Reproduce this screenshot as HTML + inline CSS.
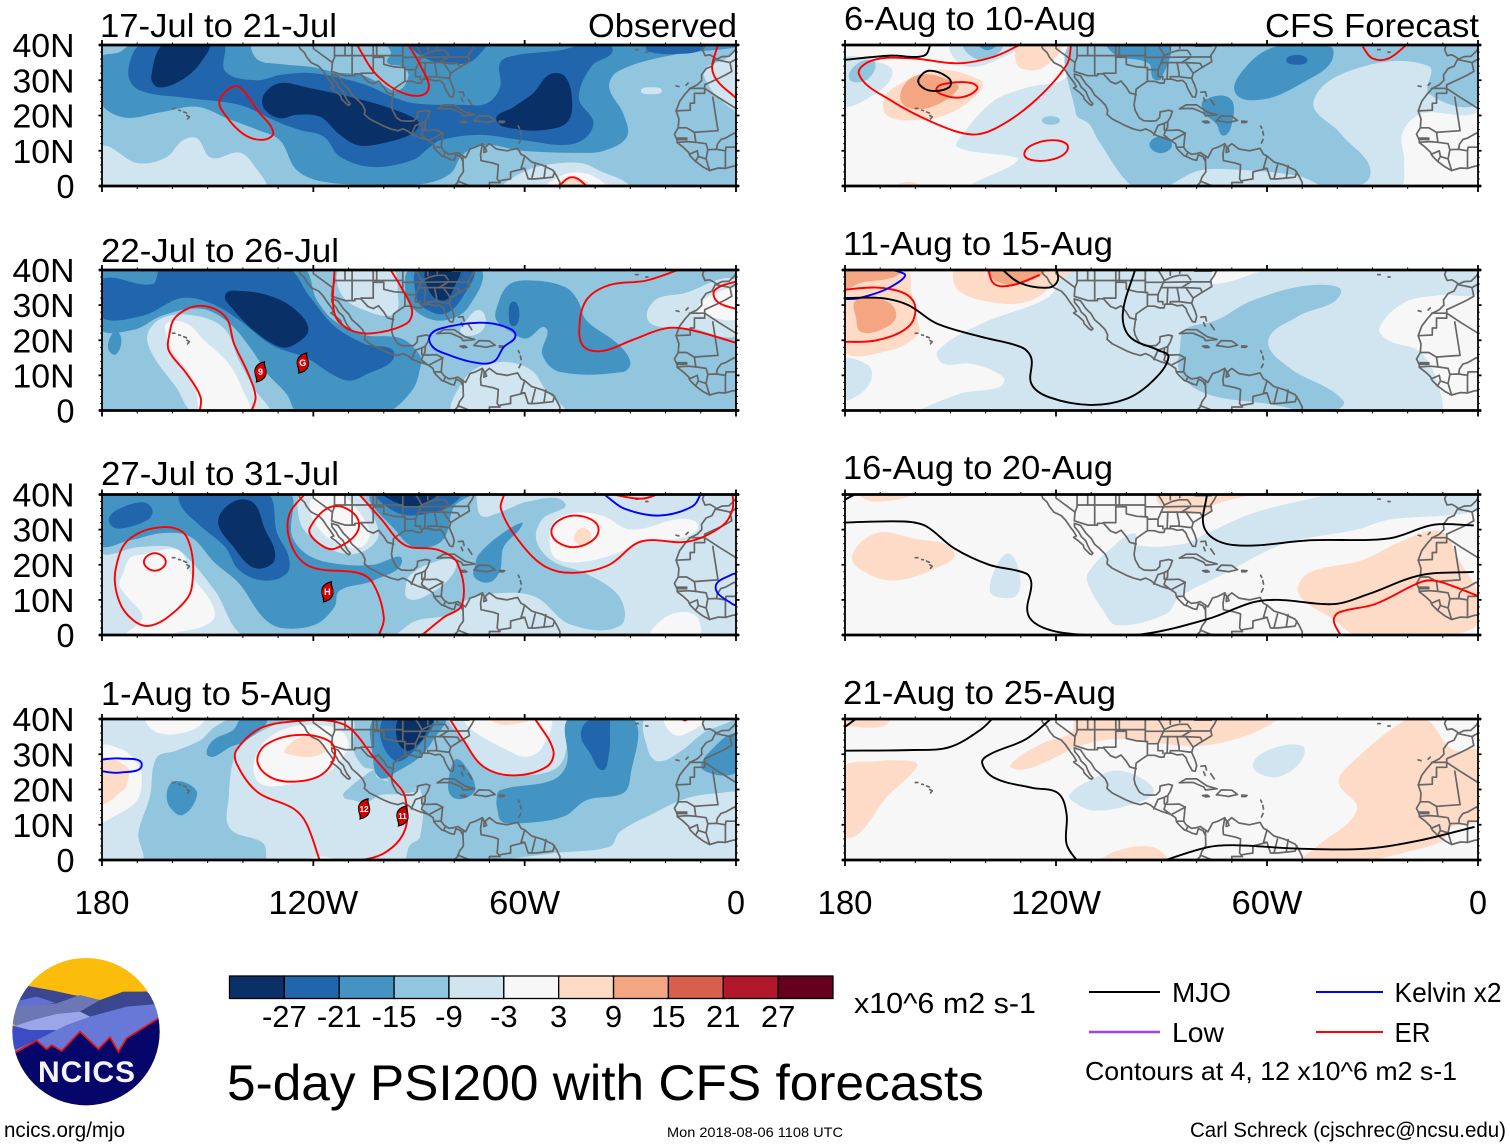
<!DOCTYPE html>
<html lang="en">
<head>
<meta charset="utf-8">
<title>5-day PSI200 with CFS forecasts</title>
<style>
html,body{margin:0;padding:0;background:#fff;}
#chart{display:block;position:absolute;left:0;top:0;}
text{font-family:"Liberation Sans",sans-serif;fill:#000;}
</style>
</head>
<body>
<svg id="chart" xmlns="http://www.w3.org/2000/svg" width="1510" height="1147" viewBox="0 0 1510 1147">
  <rect x="0" y="0" width="1510" height="1147" fill="#fff"/>
  <g id="panels"></g>
  <g id="colorbar"></g>

  <text x="854" y="1013" font-size="29" textLength="182" lengthAdjust="spacingAndGlyphs">x10^6 m2 s-1</text>
  <text x="227" y="1100" font-size="50" textLength="757" lengthAdjust="spacingAndGlyphs">5-day PSI200 with CFS forecasts</text>
  <text x="4" y="1137" font-size="21" textLength="121" lengthAdjust="spacingAndGlyphs">ncics.org/mjo</text>
  <text x="667" y="1137" font-size="14" textLength="176" lengthAdjust="spacingAndGlyphs">Mon 2018-08-06 1108 UTC</text>
  <text x="1190" y="1137" font-size="21" textLength="316" lengthAdjust="spacingAndGlyphs">Carl Schreck (cjschrec@ncsu.edu)</text>

  <g>
    <line x1="1089" y1="992" x2="1160" y2="992" stroke="#000" stroke-width="2"/>
    <text x="1172" y="1002" font-size="28" textLength="59" lengthAdjust="spacingAndGlyphs">MJO</text>
    <line x1="1316" y1="992" x2="1383" y2="992" stroke="#0000ff" stroke-width="2"/>
    <text x="1394.5" y="1002" font-size="28" textLength="107" lengthAdjust="spacingAndGlyphs">Kelvin x2</text>
    <line x1="1089" y1="1032" x2="1160" y2="1032" stroke="#a040f0" stroke-width="2.4"/>
    <text x="1172" y="1042" font-size="28" textLength="52" lengthAdjust="spacingAndGlyphs">Low</text>
    <line x1="1316" y1="1032" x2="1383" y2="1032" stroke="#ff0000" stroke-width="2"/>
    <text x="1394.5" y="1042" font-size="28" textLength="36" lengthAdjust="spacingAndGlyphs">ER</text>
    <text x="1085" y="1080" font-size="26" textLength="372" lengthAdjust="spacingAndGlyphs">Contours at 4, 12 x10^6 m2 s-1</text>
  </g>

  <g>
    <g transform="translate(0 950) scale(0.33333)">
      <defs><clipPath id="logoClip"><circle cx="258" cy="245" r="221"/></clipPath></defs>
      <g clip-path="url(#logoClip)">
        <rect x="30" y="20" width="460" height="450" fill="#fcbc0c"/>
        <path fill="#3a4690" d="M30 135 L85 108 L160 122 L220 135 L300 150 L370 125 L440 125 L490 200 L250 200 L30 180 Z"/>
        <path fill="#6070d4" d="M45 155 L110 140 L165 158 L110 170 L45 170 Z"/>
        <path fill="#6c78b4" d="M30 215 L48 168 L110 166 L170 160 L240 135 L300 150 L240 185 L180 192 L100 212 L48 228 Z"/>
        <path fill="#3a4690" d="M240 185 L310 155 L370 128 L440 125 L490 165 L380 170 L280 195 L262 195 Z"/>
        <path fill="#9aa6ea" d="M45 228 L100 210 L170 192 L240 185 L270 200 L200 225 L170 240 L90 240 Z"/>
        <path fill="#3c4cc4" d="M30 225 L90 240 L170 240 L110 272 L45 300 L30 300 Z"/>
        <path fill="#6878d6" d="M45 300 L110 270 L170 240 L200 225 L270 200 L380 170 L470 162 L490 200 L380 320 L45 320 Z"/>
        <path fill="#06066a" stroke="#ee1111" stroke-width="5" d="M25 310 L45 308 L110 272 L140 298 L155 285 L185 303 L240 245 L295 297 L330 262 L355 305 L380 265 L475 205 L495 190 L495 480 L25 480 Z"/>
      </g>
    </g>
    <text x="38" y="1082" font-size="30" font-weight="bold" textLength="97" lengthAdjust="spacing" style="fill:#f4f4fa">NCICS</text>
  </g>
</svg>

<script>
// ---------- colour scale ----------
const levelValues = [-30,-24,-18,-12,-6,0,6,12,18,24,30];
const tickLabels  = ['-27','-21','-15','-9','-3','3','9','15','21','27'];
const palette = ['#0a3068','#2166ac','#4393c3','#92c5de','#d1e5f0','#f7f7f7','#fddbc7','#f4a582','#d6604d','#b2182b','#67001f'];
const waveColors = {MJO:'#000000',Kelvin:'#0000ff',ER:'#ff0000',Low:'#a040f0'};

// ---------- axis values ----------
const latTicks = [40,30,20,10,0];
const latLabels = ['40N','30N','20N','10N','0'];
const lonTicks = [-180,-120,-60,0];
const lonLabels = ['180','120W','60W','0'];

// ---------- titles ----------
const panelTitles = ['17-Jul to 21-Jul','22-Jul to 26-Jul','27-Jul to 31-Jul','1-Aug to 5-Aug','6-Aug to 10-Aug','11-Aug to 15-Aug','16-Aug to 20-Aug','21-Aug to 25-Aug'];
const columnTitles = ['Observed','CFS Forecast'];

// ---------- PSI200 anomaly regions: [level, [lon,lat] outline] painted in order ----------
const psiBase = [-12,-12,-6,-12,0,0,0,0];

const psi1 = [
 [-6,[[-180,11],[-170,6.5],[-162,8],[-157,13],[-153,13.5],[-149,8],[-141,9.5],[-137,6],[-134,0],[-180,0]]],
 [-6,[[-27,27],[-24,28],[-21,27],[-24,26]]],
 [-6,[[-9,33],[-3,36],[0,38],[0,22],[-5,25],[-8,29]]],
 [-6,[[-66,0],[-61,3.7],[-53.7,6],[-44,6.5],[-38,4],[-32,1.5],[-30,0]]],
 [0,[[-54,0],[-50,2.7],[-46,3.8],[-41,3],[-37,0]]],
 [6,[[-51,0],[-46.5,2.5],[-41.5,0]]],
 [-18,[[-180,24.5],[-174,19.5],[-163,21],[-153,22.5],[-144,19],[-136,16],[-129.5,13],[-124.7,4.5],[-117,1.2],[-100,0.3],[-87.7,0.8],[-81,3.6],[-77.5,9],[-70.7,11.6],[-61,10],[-44,9.4],[-37.5,10],[-31,14],[-32,20.5],[-36,28],[-33.5,32.5],[-19,37],[0,39.5],[0,41],[-170.5,41],[-175,38],[-180,36]]],
 [-12,[[-137,41],[-136,36],[-129.5,34.6],[-120,33.7],[-114,32.3],[-106,31.4],[-100,28.5],[-96,27],[-93,31],[-94.5,33.8],[-99,35],[-98,38],[-101,41]]],
 [-24,[[-168,41],[-172.5,33],[-170,27.5],[-156,25],[-141,23],[-129.5,17.9],[-123.8,15.9],[-117,14],[-112.4,8.3],[-103,5.4],[-91.7,7.4],[-87,11],[-84,13],[-72.7,14.5],[-60.5,13],[-46,12],[-40.5,17.5],[-44.6,25],[-41,34],[-35,38.5],[-40,41],[-50,38.5],[-63,37],[-67,34.9],[-67,28],[-70.7,23.5],[-77.5,23],[-91.7,23.5],[-97.5,25.3],[-106,29],[-120,32],[-129.5,31.5],[-136,30],[-145,32.5],[-146,41]]],
 [-24,[[-92,41],[-87,35.7],[-76.4,34.9],[-71.7,38.6],[-71,41]]],
 [-24,[[-25,41],[-25,38.2],[-15,37.5],[-9,39],[-10,41]]],
 [-30,[[-162,41],[-166,31],[-164,28],[-157.5,30],[-152,35],[-150,41]]],
 [-30,[[-129.5,29.2],[-122,28],[-106,24.4],[-98,22],[-91.5,19.3],[-90,17.4],[-92.6,14.5],[-101,12],[-107.5,11.6],[-113,15],[-118,19.6],[-124.7,20.2],[-129.5,19.2],[-134,22],[-134,26]]],
 [-30,[[-68,18.7],[-63,22.5],[-57.6,26.3],[-53,31.6],[-48.5,31],[-46.5,23.5],[-48,18],[-53.7,16],[-61,16]]]
];

const psi2 = [
 [-6,[[-162,26.7],[-167,22],[-165.7,16],[-159,6.7],[-153.5,0],[-133,0],[-136.4,5.7],[-141,14],[-145,23],[-152,26.7]]],
 [0,[[-161.6,21],[-161.6,24.8],[-156,24.8],[-151,20],[-144,13.3],[-140,5.7],[-138.5,0],[-151,0],[-154,8.6],[-160,17]]],
 [-6,[[-78,7.6],[-73,12.4],[-65,13.8],[-58,11.4],[-54,5.7],[-49,0],[-80,0]]],
 [-6,[[-76.5,25.7],[-73,28.6],[-71,25.7],[-73,22],[-78,22]]],
 [-6,[[-25,25.7],[-23,31.4],[-15,33.3],[0,36.7],[0,22],[-13,23.4],[-18.6,23.4]]],
 [0,[[-11,28.6],[-6,33.3],[0,34],[0,26.6],[-7.3,26.6]]],
 [-6,[[-112,41],[-112,33],[-104,28],[-97,27.5],[-96,33],[-98,41]]],
 [-18,[[-180,23.7],[-171,23],[-163,27],[-152,29],[-144,25],[-138,18],[-133,10.5],[-127.6,4.7],[-124,0],[-100,0],[-92,5.7],[-89.6,12.4],[-89.6,15.5],[-95,20.5],[-105.7,21.5],[-114,25.5],[-119,31.4],[-123.5,41],[-180,41]]],
 [-18,[[-178,20],[-176,22.5],[-174.5,20],[-176,16],[-178,17]]],
 [-18,[[-68,29],[-64.6,35.7],[-58,37],[-48.6,35.2],[-45,31.5],[-42.5,25.7],[-33.6,19],[-30,13.8],[-32,11],[-50,11],[-55,16],[-54,23.5],[-59.5,20.5],[-64,22.5],[-68,25.7]]],
 [-24,[[-64.5,27.5],[-63.2,31],[-61.5,27.5],[-63.2,24]]],
 [-18,[[-92,41],[-93.5,32],[-89,27],[-82.6,25.7],[-76,29.4],[-73,41]]],
 [-24,[[-90,41],[-91,33.3],[-89,29.5],[-82.6,27.6],[-77,33.3],[-75,41]]],
 [-30,[[-87.6,41],[-86.7,33.3],[-82.6,31.4],[-80,35.2],[-78.7,41]]],
 [-24,[[-180,27],[-168.5,27],[-157.5,32],[-149,30.5],[-141,25.7],[-131.6,18.5],[-122,15],[-115,10.5],[-110,8.5],[-105.5,10],[-97,16],[-105.5,19],[-114,24],[-121,32.4],[-128,41],[-163,41],[-165.7,36],[-180,37]]],
 [-30,[[-145,33],[-140,34],[-131.6,32.4],[-125,28.6],[-121.4,23],[-125,19],[-129,18],[-136,22],[-142.6,28.6]]]
];

const psi3 = [
 [-12,[[-180,24],[-170,25],[-160,25],[-155,21.3],[-148,12.7],[-138.5,0],[-99,0],[-91,4],[-80.6,6],[-76.5,10],[-66,12],[-56.7,10.7],[-47,3],[-33,2.6],[-33,10.7],[-42.6,17.5],[-52,21],[-56.7,27],[-55,33],[-48.6,37.6],[-59,38],[-67.6,34.7],[-72.4,34],[-75,41],[-180,41]]],
 [-6,[[-93.6,15],[-92,17.5],[-87,20.3],[-80,21.3],[-80.6,17],[-87,11.7],[-93,10.3]]],
 [-6,[[-123,41],[-124,33],[-120.7,28],[-110,23],[-102,27],[-103,33.8],[-108.5,41]]],
 [0,[[-120.7,38.5],[-119,31],[-113,26],[-106.6,25],[-104,29],[-107.6,35.7],[-113.6,41]]],
 [-18,[[-180,26],[-172,27],[-163,29],[-155,28],[-148,20.6],[-141,14.6],[-134.3,5],[-129,2],[-119.4,3],[-114,8],[-112.6,12.6],[-103,15.5],[-94.8,21.3],[-103,20],[-111,20],[-120.7,22.3],[-126,28],[-127.6,41],[-180,41]]],
 [-24,[[-178,33.3],[-175,36],[-168.4,37.8],[-165.7,35.7],[-167,32.8],[-174,30.4],[-177,30.8]]],
 [-24,[[-157.5,41],[-157.5,36.6],[-152,31],[-145,25],[-141,18.4],[-134,15.5],[-127.6,17.5],[-127,22.3],[-130.3,29],[-133.7,41]]],
 [-30,[[-142.6,38],[-137,37.6],[-133.7,30],[-131,24.2],[-131.7,20.3],[-137,19.2],[-142.6,25],[-147,32.3]]],
 [-18,[[-103,41],[-96,29],[-91,25],[-83.3,27],[-80,36.6],[-75,41]]],
 [-24,[[-101.6,41],[-96,34.7],[-86.7,34.7],[-80,37.6],[-78,41]]],
 [-30,[[-99.6,41],[-93.6,36.6],[-89.6,37],[-85,41]]],
 [-18,[[-73,23],[-67.6,28],[-60.8,32],[-61.5,30],[-66,25],[-67,18.4],[-70,15],[-74.3,16.5],[-74,20.3]]],
 [0,[[-174,17.5],[-172,22],[-168,23],[-165.6,23.7],[-158,24],[-155,17.5],[-148.7,8.8],[-148.7,4],[-157.5,1],[-173,0],[-168.6,5],[-172,10],[-175,14]]],
 [0,[[-52.6,24.2],[-52,31.8],[-46,34.7],[-38,34],[-29.7,30],[-16,33],[-10.8,31],[-16,27.5],[-27,26.6],[-34,23.2],[-43.5,20.8],[-50.3,21.3]]],
 [6,[[-46,28],[-43.6,30.5],[-41,28.5],[-43,25.7],[-45,26]]],
 [0,[[-24,0],[-21.5,4],[-16,6.5],[-11,5],[-11,0]]]
];

const psi4 = [
 [-6,[[-180,41],[-144.6,41],[-149,37],[-152,34],[-159,31],[-164.5,29],[-166.4,18],[-169.7,7.5],[-169,0],[-180,0]]],
 [-18,[[-150.3,30.3],[-148.4,34],[-142.7,36.9],[-140,41],[-133,41],[-139,34],[-143.7,32],[-148.4,29.3]]],
 [-6,[[-143.7,9],[-144,18],[-142.7,28.4],[-140,33],[-133,37.4],[-124,41],[-109.6,41],[-108.6,31.2],[-105.8,26.5],[-102.5,25.5],[-94.5,19.4],[-89.7,20],[-89.7,6.6],[-92.6,4.2],[-95,0],[-132.3,0],[-134.2,4.7]]],
 [-12,[[-111.5,18],[-110,20.3],[-105.8,23.6],[-102.5,25.5],[-102,23.6],[-97.3,21.7],[-94.5,19.4],[-89.7,20.3],[-95,18.8],[-101,18.4],[-105,16.3],[-108.7,17]]],
 [0,[[-137,26.5],[-135,21.7],[-127.6,21.3],[-116.2,24.6],[-111.5,29.3],[-110,33],[-112.5,36.9],[-119,38.3],[-127.6,37.4],[-134.2,33.1]]],
 [6,[[-128,30.3],[-126.6,33],[-122.9,35],[-119,35],[-117.2,30.3]]],
 [0,[[-180,31.7],[-174,31.2],[-170,27.4],[-168.7,23.6],[-170,17],[-176.8,12.3],[-180,11]]],
 [6,[[-180,28.4],[-173,26.5],[-172.6,22.7],[-174,19.8],[-180,16.5]]],
 [0,[[-167.3,41],[-164,36],[-154,37],[-151,41]]],
 [0,[[-122.9,0],[-118,1],[-112.4,0]]],
 [-18,[[-161.6,19],[-159.8,22.2],[-155,21.3],[-153,18.4],[-157,12.8],[-160.7,15]]],
 [-6,[[-81,41],[-78,34.5],[-71,26],[-62.3,24],[-52,25.5],[-48.5,30],[-49,41]]],
 [0,[[-77,41],[-75.5,37.3],[-65,31.2],[-59.4,29.3],[-55,32],[-53.3,41]]],
 [6,[[-70,41],[-66,38.3],[-58.5,41]]],
 [-18,[[-102,41],[-103,28.4],[-101,23.2],[-96.4,25],[-89.7,29.3],[-86,34],[-83,41]]],
 [-24,[[-99.7,41],[-97.3,28.4],[-89.7,33],[-86.4,41]]],
 [-30,[[-95,41],[-96.4,35],[-93.5,31],[-89.7,33.5],[-88,36],[-86.2,41]]],
 [-18,[[-81.7,21.7],[-79.8,28.4],[-77.4,27.4],[-74,20.3],[-77,17.5],[-80.7,18]]],
 [-18,[[-68,17],[-67,19.8],[-52,22.7],[-48,27.4],[-47,41],[-29.6,41],[-30,23.6],[-32,19],[-42.4,17],[-49,12.3],[-61,10.4],[-66.5,10.9],[-67.7,14.2]]],
 [-24,[[-44,35],[-42.4,39.2],[-36.7,41],[-35.8,36],[-36.2,29.3],[-38,25.5],[-41.4,30.3]]],
 [-6,[[-25,41],[-25,31.2],[-22,28],[-15.5,31],[-9.3,36],[-1,41]]],
 [0,[[-20,41],[-18.8,36.4],[-15,35.5],[-9.3,41]]],
 [-18,[[-9.3,25.5],[-7.9,30.3],[0,35.5],[0,25.5]]],
 [-6,[[-67,0],[-52,1.9],[-35.8,3.8],[-33,8],[-23.5,13.2],[-14,17.5],[-4.5,19],[0,18.4],[0,0]]]
];

const psi5 = [
 [-6,[[-180,35.7],[-172,35.5],[-166.5,32],[-173.6,24.8],[-180,23.4]]],
 [-12,[[-178.8,30.5],[-176,35],[-171.5,35],[-174,30]]],
 [-6,[[-149.5,41],[-146,34],[-134,37],[-130,41]]],
 [-12,[[-146,41],[-141,35.6],[-135.5,41]]],
 [-18,[[-142,41],[-139.5,38.5],[-137,41]]],
 [-6,[[-144,0],[-132,6.2],[-131,8],[-148,11],[-146.5,14.8],[-137.5,24.3],[-128,28],[-116.9,31],[-114.4,41],[2,41],[0,22],[-16,20.5],[-21.5,15],[-21,7],[-22.8,0]]],
 [-12,[[-114.3,41],[-114.3,20.5],[-110.5,17.6],[-108,13],[-97.6,0],[-90,0],[-79.5,4.3],[-68,4.6],[-51,2.8],[-41,0],[-30.6,3.3],[-39,14.8],[-46.7,24.3],[-33,33.8],[-14,34],[-13.8,26],[0,24],[0,41]]],
 [-18,[[-68.9,26.2],[-66,33.8],[-57.6,39.5],[-42,39.5],[-42,34.8],[-48.6,30],[-60,24.8]]],
 [-24,[[-54.5,35.7],[-51.5,37.2],[-48.5,35.7],[-51.5,34.4]]],
 [-18,[[-105.3,41],[-102.7,37],[-93.7,34.8],[-92.4,30.5],[-90,30.5],[-88.5,41]]],
 [-18,[[-78,24.3],[-70.5,24.8],[-70,17.6],[-72.4,14.3],[-74.4,17.6],[-78,21]]],
 [-18,[[-93.4,11.7],[-90.2,14.1],[-87,11.7],[-90.2,9.3]]],
 [-12,[[-124,18.6],[-121.4,19.8],[-118.9,18.6],[-121.4,17.4]]],
 [6,[[-169,24.3],[-166,28],[-154,33],[-141.4,30],[-141.4,27],[-150.4,20.5],[-160.7,18.6],[-168,20]]],
 [12,[[-164.3,25.2],[-162,30],[-157,31.7],[-150.4,30],[-147.8,27.6],[-155.5,22.4],[-162,22.2]]],
 [6,[[-131.7,37],[-130,41],[-119,41],[-123.3,33.8],[-129.8,33.3]]],
 [6,[[-166,0],[-162,1.2],[-158,0]]]
];

const psi6 = [
 [-6,[[-153.6,17],[-141,24.8],[-122,32.4],[-115.6,41],[-76,41],[-75.7,36],[-56.4,41],[0,41],[0,33.7],[-10.8,32.8],[-21,30.7],[-28,23.5],[-25.5,20],[-16,16.3],[-10.7,5.2],[-11.2,0],[-158,0],[-147.6,4.7],[-136,6.7],[-135,9.5],[-144,13.3],[-152,13.3]]],
 [-6,[[-180,14],[-173.6,13],[-172.5,9],[-176,4.5],[-180,3.5]]],
 [-12,[[-84.7,18],[-83.4,23],[-74.4,25.7],[-64,31.4],[-47.4,35.7],[-39,33.3],[-51.4,26.7],[-59.6,20],[-54,12.4],[-38.3,2.8],[-43,0],[-60,1.9],[-77,4.7],[-84.7,10.5]]],
 [6,[[-180,17.6],[-180,41],[-163,41],[-161,33],[-159.4,25.7],[-159,22],[-167,17.2]]],
 [6,[[-148,41],[-147.8,34.3],[-136,30.5],[-127,31.4],[-120.7,36],[-115.6,41]]],
 [12,[[-180,41],[-180,35],[-175,36.5],[-166,38],[-163.5,41]]],
 [12,[[-176.8,31.4],[-168,31],[-165.5,26.6],[-170,22.9],[-175.5,22.4],[-176.8,26]]],
 [12,[[-139.4,41],[-137.5,37],[-130,36],[-123.5,41]]]
];

const psi7 = [
 [6,[[-178,22.3],[-171,29],[-160.7,27.5],[-149,23.7],[-155.5,18.4],[-166,15.5],[-173.6,17.5]]],
 [6,[[-51,11.7],[-48.4,17.5],[-33,21.3],[-21,27],[-10.8,29.5],[-5.8,22.3],[0,5],[-12.6,0],[-33,0],[-42,5]]],
 [6,[[-91,41],[-89,35.7],[-77,34.7],[-75,37],[-65,41]]],
 [6,[[-176,41],[-172,38],[-162,41]]],
 [-6,[[-138.8,12.6],[-136,21.3],[-133,23],[-130.4,17.5],[-130.9,11.7],[-135,10.5]]],
 [-6,[[-111,17.5],[-104,25],[-97.6,29],[-97,25.6],[-83.4,26],[-77,29],[-64,34.7],[-44.7,39.5],[-40,41],[0,41],[0,35.7],[-25.4,32.8],[-34.5,30],[-55,26],[-72,17.5],[-85,10.7],[-88.6,6],[-102.7,2.8],[-106.6,7],[-110.5,13.6]]]
];

const psi8 = [
 [6,[[-180,25.6],[-171,28],[-160.7,28],[-159.4,26.6],[-167,19],[-180,6.6]]],
 [6,[[-133,27],[-123.4,33.3],[-115.6,36],[-114,41],[-57.6,41],[-64,36],[-79.5,32.4],[-102.7,34.3],[-113,32.4],[-123.4,27.6],[-130,25.6]]],
 [6,[[-19,41],[-14,39.5],[-7.4,31.4],[0,30.4],[0,12],[-7.4,9.4],[-10,5.5],[-19,2.6],[-34.5,0],[-50,0],[-46,3.6],[-34.5,14.2],[-39.6,21.8],[-37,26.6]]],
 [6,[[-107,0],[-102.7,2.6],[-92.4,3.6],[-88.6,0]]],
 [6,[[-180,41],[-180,38],[-167,41]]],
 [-6,[[-116.2,18.5],[-109,23.3],[-102.7,25.4],[-95,22.8],[-92.4,19],[-99,15.6],[-109,14],[-114.3,16]]],
 [-6,[[-64,27],[-59,31.4],[-50,32.4],[-50,28.5],[-55,24.2],[-60,23.7]]]
];

// ---------- filtered wave contours: [wave, closed(1)/open(0), [lon,lat] points] ----------
const waves1 = [
 ['ER',1,[[-146.6,24.3],[-142.5,28.3],[-139.8,27],[-135.8,21.4],[-131.4,15.2],[-134.3,13.1],[-139.8,14.7],[-145.2,20.4]]],
 ['ER',0,[[-108,40],[-102,31.5],[-93.5,26],[-87.5,27],[-89.5,34],[-93.5,40]]],
 ['ER',0,[[-5,40],[-6.5,32],[0,24]]],
 ['ER',0,[[-51,0],[-46.5,2.5],[-41.5,0]]]
];
const waves2 = [
 ['ER',0,[[-152.3,0],[-152,3.8],[-156,10.5],[-161,17],[-161,21],[-159,26.7],[-152,29.8],[-145,26.7],[-142.5,19],[-138.5,10.5],[-136.4,3.8],[-137.8,0]]],
 ['ER',0,[[-114,40],[-114,27.6],[-109.6,23],[-103,22],[-93.5,24.8],[-92,28.6],[-95,35],[-98.5,40]]],
 ['ER',0,[[-14.6,40],[-25.4,37],[-36,35.7],[-42.5,31.4],[-44.5,23],[-43,18],[-37.6,17],[-29.6,20],[-20,23.4],[-13.2,23],[0,19]]],
 ['ER',0,[[0,37],[-6,34.3],[-5.3,31],[0,28.6]]],
 ['Kelvin',1,[[-87,21],[-84,23.3],[-73,25],[-66,24],[-62.6,21.4],[-66,18],[-69,13.8],[-75,13.8],[-82.6,16.2],[-86,18]]]
];
const waves3 = [
 ['ER',1,[[-176,19.4],[-172.6,27],[-163,30.7],[-156,28],[-154.5,13.6],[-159,7],[-167,2.6],[-173,6],[-176,12.6]]],
 ['ER',1,[[-168.1,20.8],[-165,23.3],[-161.9,20.8],[-165,18.3]]],
 ['ER',0,[[-101.6,0],[-100,5],[-103,14.6],[-107,17.6],[-120.7,19.4],[-126,25],[-127,33.8],[-122,40]]],
 ['ER',0,[[-107.6,40],[-100.7,33],[-94,25.6],[-84.5,24.2],[-79,20.3],[-77.7,8.8],[-83,5],[-90,0]]],
 ['ER',1,[[-121,30.4],[-113.8,36.7],[-107,31.4],[-113.8,24.6],[-119,26.5]]],
 ['ER',0,[[-65.6,40],[-66.7,35.7],[-61,26],[-54,19.4],[-46,17.7],[-36,20],[-27,26.6],[-13.6,26.6],[-4,31],[-1,35.7],[-1,40]]],
 ['ER',1,[[-52.4,29.4],[-46,34],[-39,30],[-46,25]]],
 ['ER',0,[[-38,40],[-27,38.8],[-20.4,40]]],
 ['Kelvin',0,[[-37,39.7],[-31.7,36],[-22,34],[-12.4,36.6],[-9.7,40]]],
 ['Kelvin',0,[[0,17.5],[-1,17.3],[-5.8,13.6],[-1,8.8],[0,8.5]]]
];
const waves4 = [
 ['ER',0,[[-109.6,0],[-100,1.9],[-94,8.5],[-94,18],[-97.3,22.7],[-103,29.3],[-109.6,37.4],[-115.3,39.5],[-123.8,39.5],[-135,37.4],[-141.8,31.2],[-141.8,27.4],[-136,19.4],[-125.7,14.6],[-122,10.4],[-118,0]]],
 ['ER',1,[[-135.9,28.4],[-133,33],[-124,35.5],[-115.3,33.6],[-114,29.3],[-118,24],[-126.6,22.2],[-133,24]]],
 ['ER',0,[[-81.7,40],[-77.4,34],[-71.7,26.5],[-63.2,24],[-53.7,26.5],[-51.9,31.2],[-57.5,40]]],
 ['ER',0,[[-16,40],[-14.5,39.6],[-13,40]]],
 ['Kelvin',0,[[-180,28.4],[-174.8,28.8],[-168.7,27],[-174.8,24.8],[-180,25.3]]]
];
const waves5 = [
 ['ER',0,[[-129,40],[-137.6,36.7],[-148,34.8],[-160.7,36.2],[-172,35.7],[-176,31.6],[-167,24.3],[-154,17.6],[-144,14.6],[-137.5,16.2],[-127,23.3],[-117,34.3],[-115.6,40]]],
 ['ER',1,[[-154,27.6],[-150.3,29.2],[-144,29.2],[-142.4,27.6],[-146.7,25.2],[-151.7,25.7]]],
 ['ER',1,[[-129,9],[-126,12],[-119.5,12.9],[-116.6,11],[-119.5,8],[-126,7.2]]],
 ['ER',0,[[-32.8,39.5],[-30,36.2],[-25.4,36.2],[-19.6,40]]],
 ['MJO',0,[[-180,35.7],[-167,37],[-157.5,37],[-155.5,40]]],
 ['MJO',1,[[-159,30.5],[-156,32.7],[-150.4,30.5],[-150.4,28],[-155.5,27],[-158.7,28.6]]]
];
const waves6 = [
 ['ER',0,[[-180,34.3],[-171,35],[-163,33.3],[-160,29.5],[-162,23.8],[-171,20],[-180,19.5]]],
 ['ER',0,[[-139.4,40],[-137.5,36],[-132.3,35.7],[-124.6,38.6]]],
 ['Kelvin',0,[[-179.5,40],[-163.3,39],[-167,35.2],[-176,32],[-180,31.7]]],
 ['MJO',0,[[-180,32],[-169.7,32],[-162,30],[-154,24.8],[-141.4,21],[-129.8,18],[-127,14.8],[-127,7.6],[-122,3.8],[-110.4,1.6],[-100,3.3],[-92.3,8.6],[-88,15.2],[-91,17.2],[-99,21],[-101,27.6],[-97.3,40]]],
 ['MJO',0,[[-136,40],[-130,36.2],[-122,35],[-119.5,37],[-120,40]]]
];
const waves7 = [
 ['MJO',0,[[-180,38],[-176,40]]],
 ['MJO',0,[[-180,32],[-163,32.3],[-157,31],[-149,24.7],[-139,20],[-128.5,17.5],[-127,14.6],[-128,6],[-123.4,2],[-113,0.1],[-96.3,0.1],[-77,4.5],[-64,9.3],[-56.4,10],[-41,8.8],[-31,11.7],[-16.4,17],[-1.2,18]]],
 ['MJO',0,[[-77,40],[-77.6,30],[-69.4,25.6],[-47.3,27],[-25.4,27.5],[-12.5,31.4],[-1.2,31.2]]],
 ['ER',0,[[-38.7,0],[-41,4],[-39.6,6.4],[-29.3,8.8],[-16.4,15],[-12.5,15.5],[-7.4,14],[0,10.7]]]
];
const waves8 = [
 ['MJO',0,[[-180,37],[-176,40]]],
 ['MJO',0,[[-180,31],[-160.7,31.2],[-150.3,32],[-141.4,37],[-137.5,40]]],
 ['MJO',0,[[-120.7,40],[-128.5,34.3],[-138.8,30],[-141,27.6],[-137.5,23.3],[-127,20.5],[-119.5,19],[-117,13.2],[-117,4.6],[-113.7,0]]],
 ['MJO',0,[[-91,0],[-77,3.6],[-69.4,4.2],[-51,3.2],[-32,3.2],[-16.4,5.6],[-1,9.4]]]
];

// ---------- tropical cyclones: [label, lon, lat] ----------
const cyclones1 = [];
const cyclones2 = [['9',-135,11],['G',-123,13.5]];
const cyclones3 = [['H',-116,12.3]];
const cyclones4 = [['12',-105.6,14.5],['11',-94.7,12.5]];
const cyclones5 = [];
const cyclones6 = [];
const cyclones7 = [];
const cyclones8 = [];

// ---------- basemap polylines in lon/lat ----------
const coastLines = [
 [[-124.3,40.5],[-123.8,39],[-122.5,37.8],[-121.9,36.6],[-120.6,35],[-118.5,34],[-117.2,32.6],[-116,30.8],[-115,29.5],[-114.2,28.2],[-115,27.8],[-113.5,26.7],[-112.2,25.5],[-112,24.7],[-110.5,23.2],[-109.9,22.9],[-109.5,23.3],[-110.3,24.2],[-111,25.5],[-111.5,26.8],[-112.8,28],[-113.5,29.3],[-114.7,30.8],[-114.8,31.8],[-113,31.2],[-111.5,29],[-110,27.5],[-109,25.8],[-107.5,24.5],[-106,23],[-105.3,21.5],[-105.5,20.3],[-104,19],[-102,18],[-100,17],[-98,16.2],[-96,15.7],[-94.5,16.2],[-93,15.5],[-92,14.6],[-90,13.8],[-88,13.2],[-87.5,13],[-86,12],[-85.7,10.8],[-85,10],[-83.5,8.5],[-82.5,8.2],[-81,7.5],[-80,7.3],[-79.5,8.9],[-78.2,8.3],[-77.5,7],[-77.4,4],[-78.5,2.5],[-79,1],[-80,0],[-80.2,-1]],
 [[-74,40.5],[-75,38.5],[-76,37],[-75.7,35.3],[-77,34.5],[-79,33.3],[-81,32],[-81.4,30.5],[-80.5,28.5],[-80,26.8],[-80.4,25.2],[-81.2,25.3],[-81.9,26.5],[-82.7,28],[-83,29],[-84,30],[-85.5,29.8],[-87,30.3],[-89,30.3],[-89.3,29.2],[-90.5,29.2],[-92,29.7],[-94,29.7],[-95.5,28.7],[-97.2,27.5],[-97.4,25.8],[-97.8,23],[-97.5,21.5],[-96.3,19.3],[-95,18.5],[-93,18.4],[-91.5,18.5],[-90.5,19.5],[-90.4,21],[-88,21.5],[-86.9,21.2],[-87.5,19.5],[-88.2,18.3],[-88.3,16.5],[-88.8,15.8],[-87,15.8],[-85,15.9],[-83.3,15],[-83.5,13],[-83.7,11],[-83,10],[-81.5,9],[-80,9.2],[-79,9.5],[-77.5,8.5],[-76.8,8],[-75.5,10.5],[-74,11],[-72,12],[-71.5,11],[-71.6,9.5],[-70.8,9.8],[-71.2,11],[-70,12],[-68,10.5],[-65,10],[-62,10.7],[-61,9],[-60,8.5],[-58,6.8],[-55,5.9],[-52,4.5],[-51,3],[-50,1],[-50,-1]],
 [[-84.9,21.9],[-83,23],[-80,23],[-77,21],[-74.2,20.2],[-77.5,19.9],[-78,20.7],[-81,22],[-83,22],[-84.9,21.9]],
 [[-74.4,18.5],[-73,19.9],[-70,19.8],[-68.4,18.6],[-71,18],[-72,18.2],[-74.4,18.5]],
 [[-78.3,18.3],[-77,18.4],[-76.4,18],[-77.5,17.9],[-78.3,18.3]],
 [[-67.2,18.4],[-65.7,18.3],[-66,18],[-67.2,18]],
 [[-78.8,26.6],[-77.5,26.7],[-77.2,25.5]],
 [[-78,25],[-77.6,24]],
 [[-76,24.5],[-75,23]],
 [[-160,22],[-159.3,22]],
 [[-158.2,21.5],[-157.7,21.4]],
 [[-156.8,21],[-156,20.7]],
 [[-155.9,20],[-155.2,19.6],[-155.7,19]],
 [[-61.8,17],[-61.5,16.4]],
 [[-61.2,15.5],[-61,14.5]],
 [[-61.1,13.2],[-61.6,12.2]],
 [[-28.5,38.7],[-27.8,38.7]],
 [[-25.6,38],[-25,38]],
 [[-17,28.4],[-16.2,28.2]],
 [[-14.2,28.6],[-13.6,29.2]],
 [[-8.8,40.5],[-9.5,38.7],[-8.8,37],[-7.4,37.2],[-6.2,36.5],[-5.5,36],[-4,36.7],[-2,36.8],[-0.5,38.2],[0,39]],
 [[-5.9,35.8],[-6.8,34],[-8.5,33.3],[-9.8,31.5],[-9.7,30],[-11,28.7],[-13,27.7],[-14.5,26],[-16,24],[-17,21.3],[-16.2,19],[-16.4,16.5],[-17.5,14.7],[-16.7,13],[-16.7,12.3],[-15,11],[-13.5,9.6],[-13,8.5],[-11.5,7],[-9.5,5.5],[-7.5,4.4],[-5,5.1],[-3,5],[-1,5.6],[0,5.7]],
 [[-5.5,35.8],[-3,35.3],[-1.7,35],[0,36]]
];
const borderLines = [
 [[-124,40],[-120,40],[-120,39],[-114.6,35],[-114.8,32.5],[-111,31.3],[-108.2,31.3],[-108.2,31.8],[-106.5,31.8],[-104.5,29.6],[-103,29],[-101.5,29.8],[-100,28],[-99,26.4],[-97.2,25.9]],
 [[-114,41],[-114,36.5],[-114.6,35]],
 [[-114,37],[-94.6,37]],
 [[-111,41],[-111,37]],
 [[-109,41],[-109,31.3]],
 [[-103,41],[-103,32],[-106.5,32]],
 [[-102,41],[-102,37]],
 [[-94.6,41],[-94.6,33.6]],
 [[-103,36.5],[-100,36.5],[-100,34.5],[-97,33.8],[-94,33.6]],
 [[-94,33.6],[-94,29.7]],
 [[-94,33],[-91,33],[-91,31],[-89.6,31],[-89.6,30.2]],
 [[-94.6,36.5],[-89.5,36.5],[-81.7,36.6],[-75.9,36.6]],
 [[-91.4,40.5],[-90.2,38.8],[-89.2,37],[-90.1,35],[-91,33]],
 [[-90.1,35],[-84.3,35],[-83.1,35],[-79,34.8],[-78.5,33.9]],
 [[-88.2,35],[-88.4,30.3]],
 [[-85.6,35],[-85,32],[-85,31]],
 [[-87.5,30.3],[-87.5,31],[-85,31],[-82,30.6],[-81.4,30.7]],
 [[-84.3,35],[-81.7,36.6]],
 [[-83.1,35],[-81,32]],
 [[-89.2,37],[-87,38],[-85,38.5],[-82.6,38.5],[-81.7,37.2]],
 [[-87.5,40.5],[-87.5,38.5]],
 [[-84.8,40.5],[-84.8,39.1]],
 [[-80.5,40.5],[-80.5,39.7],[-75.8,39.7]],
 [[-92.2,14.5],[-91,17.2],[-89.2,17.8],[-88.2,18.3]],
 [[-89.2,17.8],[-89.2,15.9]],
 [[-88.8,15.8],[-89.3,14.4],[-87.5,13]],
 [[-83.2,15],[-87,13]],
 [[-85.7,11],[-83.7,11]],
 [[-83,8.5],[-82.5,9.5]],
 [[-77.5,8.5],[-77.5,7]],
 [[-79,1.4],[-75.5,0]],
 [[-72,12],[-72.5,9],[-72.4,7.2],[-69,6.5],[-67.5,6],[-67.8,2],[-67,1]],
 [[-60,8.5],[-61,5],[-60,5]],
 [[-67,1.5],[-64,2],[-64,4],[-60,5],[-59,2],[-57,2],[-54,2.3],[-52,2.5],[-51.5,4]],
 [[-57,6],[-58,2]],
 [[-54,5.8],[-54.5,2.3]],
 [[-67,1],[-70,1],[-70,0]],
 [[-1.7,35],[-1.2,32.5],[-3,31.5],[-5,30.5],[-8.9,28.7],[-8.9,27.7]],
 [[-13.2,27.7],[-8.9,27.7],[-8.9,26.3],[-11.8,26.3],[-11.8,23.5],[-13,23.5],[-13,21.5],[-17,21.3]],
 [[-8.9,27.7],[-4.8,25],[0,22]],
 [[-6.6,25.2],[-5.1,15.7],[-9.3,15.4],[-11.8,15.2],[-14,16.5],[-16.4,16.5]],
 [[-11.8,15.2],[-11.4,12.4],[-13.7,12.6],[-16.7,12.4]],
 [[-16.7,13.6],[-14,13.6],[-14,13.2],[-16.7,13.2]],
 [[-11.4,12.4],[-8.5,12],[-8,10.3],[-8.5,7.7],[-7.5,4.4]],
 [[-13.3,9],[-11,10],[-10.7,8.4],[-11.5,7]],
 [[-10.7,8.4],[-8.5,7.7]],
 [[-8,10.3],[-5.5,10.4],[-3,10],[-2.8,11]],
 [[-3,5],[-3,10]],
 [[-5.5,10.4],[-5.3,11.8],[-4.3,13.2],[-3,13.6],[-0.5,15],[0,14.8]],
 [[-2.8,11],[0,11]]
];

// ---------- layout (not data) ----------
const frameTops = [45,270,494.5,719];
const frameBottoms = [186,410.5,635,860];
const columnLefts = [102,845];
const columnRights = [736,1478];
const titleGeom = [
 [100,37,237],[101,262,238],[101,485,238],[101,705,231],
 [844,30,252],[843,255,270],[843,479,270],[843,704,273]
];
const columnTitleGeom = [[588,37,149],[1265,37,214]];
const latLabelWidths = [62,62,62,62,18];
const lonLabelWidths = [55,90,71,18];

const psiPanels = [psi1,psi2,psi3,psi4,psi5,psi6,psi7,psi8];
const wavePanels = [waves1,waves2,waves3,waves4,waves5,waves6,waves7,waves8];
const cyclonePanels = [cyclones1,cyclones2,cyclones3,cyclones4,cyclones5,cyclones6,cyclones7,cyclones8];

const NS = 'http://www.w3.org/2000/svg';
function make(tag, attrs, parent){
  const n = document.createElementNS(NS, tag);
  for (const k in attrs) n.setAttribute(k, attrs[k]);
  if (parent) parent.appendChild(n);
  return n;
}
function levelColor(v){ return palette[levelValues.indexOf(v)]; }

function smoothPath(pts, closed){
  const n = pts.length;
  const at = i => closed ? pts[(i+n)%n] : pts[Math.max(0,Math.min(n-1,i))];
  const unit = (a,b) => { const dx=b[0]-a[0], dy=b[1]-a[1], l=Math.hypot(dx,dy)||1; return [dx/l,dy/l]; };
  let d = 'M' + pts[0][0].toFixed(1) + ' ' + pts[0][1].toFixed(1);
  const last = closed ? n : n-1;
  for (let i=0;i<last;i++){
    const p0=at(i-1), p1=at(i), p2=at(i+1), p3=at(i+2);
    const len = Math.hypot(p2[0]-p1[0],p2[1]-p1[1])*0.34;
    const t1 = unit(p0,p2), t2 = unit(p1,p3);
    d += 'C'+(p1[0]+t1[0]*len).toFixed(1)+' '+(p1[1]+t1[1]*len).toFixed(1)+' '+(p2[0]-t2[0]*len).toFixed(1)+' '+(p2[1]-t2[1]*len).toFixed(1)+' '+p2[0].toFixed(1)+' '+p2[1].toFixed(1);
  }
  return d + (closed ? 'Z' : '');
}

const panelsRoot = document.getElementById('panels');
const defsRoot = make('defs', {}, panelsRoot);

for (let p=0; p<8; p++){
  const col = p<4 ? 0 : 1, row = p%4;
  const x0 = columnLefts[col], x1 = columnRights[col], y0 = frameTops[row], y1 = frameBottoms[row];
  const xAxis = lon => x0 + (lon+180)*(x1-x0)/180;
  const yAxis = lat => y1 - lat*(y1-y0)/40;
  const project = ([lon,lat]) => {
    const lo = lon<=-180 ? -181 : (lon>=0 ? 1 : lon);
    const la = lat>=40 ? 40.7 : (lat<=0 ? -0.7 : lat);
    return [xAxis(lo), yAxis(la)];
  };
  const raw = ([lon,lat]) => [xAxis(lon), yAxis(lat)];

  const panel = make('g', {}, panelsRoot);
  
  

  const clip = make('clipPath', {id:'clip'+p}, defsRoot);
  make('rect', {x:x0,y:y0,width:x1-x0,height:y1-y0}, clip);

  const plot = make('g', {'clip-path':'url(#clip'+p+')'}, panel);
  
  

  const base = make('rect', {x:x0,y:y0,width:x1-x0,height:y1-y0,fill:levelColor(psiBase[p])}, plot);
  
  

  psiPanels[p].forEach(([lvl,outline]) => {
    const a = make('path', {d:smoothPath(outline.map(project), true), fill:levelColor(lvl)}, plot);
    
    
  });

  const coast = make('g', {fill:'none',stroke:'#666666','stroke-width':1.7,'stroke-linejoin':'round','stroke-linecap':'round'}, plot);
  
  
  coastLines.concat(borderLines).forEach(line => {
    const d = line.map((q,i)=>{ const c=raw(q); return (i?'L':'M')+c[0].toFixed(1)+' '+c[1].toFixed(1); }).join('');
    const m = make('path', {d:d}, coast);
    
    
  });

  wavePanels[p].forEach(([wave,closed,pts]) => {
    const c = make('path', {d:smoothPath(pts.map(project), !!closed), fill:'none', stroke:waveColors[wave], 'stroke-width':1.9, 'stroke-linejoin':'round'}, plot);
    
    
  });

  cyclonePanels[p].forEach(([label,lon,lat]) => {
    const cx = xAxis(lon), cy = yAxis(lat);
    const g = make('g', {}, plot);
    
    
    make('path', {d:'M'+(cx+4)+' '+(cy-10)+'C'+(cx-2)+' '+(cy-9)+' '+(cx-6)+' '+(cy-5)+' '+(cx-5.5)+' '+cy+'L'+(cx+5.5)+' '+cy+'C'+(cx+5.5)+' '+(cy-4)+' '+(cx+3)+' '+(cy-7)+' '+(cx+4)+' '+(cy-10)+'Z',fill:'#d40000',stroke:'#000','stroke-width':1.2}, g);
    make('path', {d:'M'+(cx-4)+' '+(cy+10)+'C'+(cx+2)+' '+(cy+9)+' '+(cx+6)+' '+(cy+5)+' '+(cx+5.5)+' '+cy+'L'+(cx-5.5)+' '+cy+'C'+(cx-5.5)+' '+(cy+4)+' '+(cx-3)+' '+(cy+7)+' '+(cx-4)+' '+(cy+10)+'Z',fill:'#d40000',stroke:'#000','stroke-width':1.2}, g);
    make('ellipse', {cx:cx,cy:cy,rx:5.5,ry:6.2,fill:'#d40000'}, g);
    const t = make('text', {x:cx,y:cy+3,'font-size':label.length>1?8:9,'font-weight':'bold','text-anchor':'middle',style:'fill:#fff'}, g);
    t.textContent = label;
  });

  const axes = make('g', {stroke:'#000',fill:'none'}, panel);
  
  
  for (let lon=-180; lon<=0; lon+=10){
    const major = lon%60===0, x = xAxis(lon);
    make('line', {x1:x,x2:x,y1:y0,y2:y0-(major?5:2.5),'stroke-width':major?1.8:1}, axes);
    make('line', {x1:x,x2:x,y1:y1,y2:y1+(major?6:3),'stroke-width':major?1.8:1}, axes);
  }
  for (let lat=0; lat<=40; lat+=2){
    const major = lat%10===0, y = yAxis(lat);
    make('line', {x1:x0,x2:x0-(major?3.5:1.8),y1:y,y2:y,'stroke-width':major?1.8:1}, axes);
    make('line', {x1:x1,x2:x1+(major?3.5:1.8),y1:y,y2:y,'stroke-width':major?1.8:1}, axes);
  }
  make('line', {x1:x0-3,x2:x1+3,y1:y0,y2:y0,'stroke-width':2.8}, axes);
  make('line', {x1:x0-3,x2:x1+3,y1:y1,y2:y1,'stroke-width':2.8}, axes);
  make('line', {x1:x0,x2:x0,y1:y0,y2:y1,'stroke-width':1.8}, axes);
  make('line', {x1:x1,x2:x1,y1:y0,y2:y1,'stroke-width':1.8}, axes);

  const g = titleGeom[p];
  const title = make('text', {x:g[0],y:g[1],'font-size':33,textLength:g[2],lengthAdjust:'spacingAndGlyphs'}, panel);
  
  
  title.textContent = panelTitles[p];

  if (col===0){
    latTicks.forEach((lat,i)=>{
      const w = latLabelWidths[i];
      const t = make('text', {x:74.5-w,y:yAxis(lat)+12,'font-size':33,textLength:w,lengthAdjust:'spacingAndGlyphs'}, panel);
      
      
      t.textContent = latLabels[i];
    });
  }
  if (row===3){
    lonTicks.forEach((lon,i)=>{
      const w = lonLabelWidths[i];
      const t = make('text', {x:xAxis(lon)-w/2,y:914,'font-size':33,textLength:w,lengthAdjust:'spacingAndGlyphs'}, panel);
      
      
      t.textContent = lonLabels[i];
    });
  }
}

columnTitles.forEach((s,i)=>{
  const g = columnTitleGeom[i];
  const t = make('text', {x:g[0],y:g[1],'font-size':33,textLength:g[2],lengthAdjust:'spacingAndGlyphs'}, panelsRoot);
  
  
  t.textContent = s;
});

const cbRoot = document.getElementById('colorbar');
const cbX0 = 229.5, cbX1 = 833, cbY0 = 976, cbY1 = 998.5;
const cbW = (cbX1-cbX0)/levelValues.length;
levelValues.forEach((v,i)=>{
  const r = make('rect', {x:cbX0+i*cbW,y:cbY0,width:cbW,height:cbY1-cbY0,fill:levelColor(v),stroke:'#000','stroke-width':1.3}, cbRoot);
  
  
});
tickLabels.forEach((s,i)=>{
  const t = make('text', {x:cbX0+(i+1)*cbW,y:1027,'font-size':31,'text-anchor':'middle'}, cbRoot);
  
  
  t.textContent = s;
});
</script>
</body>
</html>
